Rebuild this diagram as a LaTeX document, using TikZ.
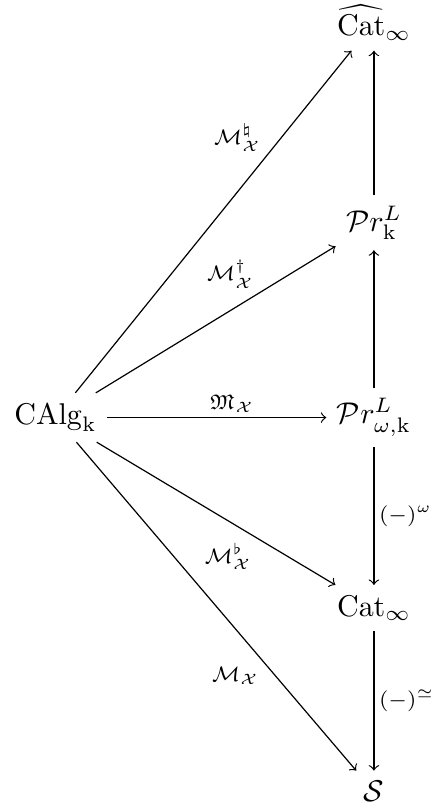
\documentclass[tikz,border=0pt]{standalone}
\usepackage{amsmath,amssymb,amsfonts}
\usepackage{tikz}
\tikzset{
  obj/.style={inner sep=3.33pt},
  mor/.style={->},
  lbl/.style={font=\scriptsize, inner sep=1.5pt}
}
\newcommand{\Xcat}{\mathcal{X}}

\begin{document}
\begin{tikzpicture}
\useasboundingbox (0,0) rectangle (5.12,9.49);
\node[obj] (calg) at (0.65,4.598) {$\mathrm{CAlg}_{\mathrm{k}}$};
\node[obj] (cathat) at (4.381,9.223) {$\widehat{\mathrm{Cat}}_\infty$};
\node[obj] (prk) at (4.381,6.88) {$\mathcal{P}r^L_{\mathrm{k}}$};
\node[obj] (prwk) at (4.381,4.598) {$\mathcal{P}r^L_{\omega,\mathrm{k}}$};
\node[obj] (cat) at (4.381,2.366) {$\mathrm{Cat}_\infty$};
\node[obj] (spc) at (4.381,0.217) {$\mathcal{S}$};
%SPINE ARROWS
\draw[mor] (prk) -- (cathat);
\draw[mor] (prwk) -- (prk);
\draw[mor] (prwk) -- node[lbl,right]{$(-)^\omega$} (cat);
\draw[mor] (cat) -- node[lbl,right]{$(-)^{\simeq}$} (spc);
%CAlg to Cat hat
\draw[mor] (calg) -- node[lbl,above left,pos=0.69]{$\mathcal{M}^\natural_\Xcat$} (cathat);
%CAlg to Pr_k
\draw[mor] (calg) -- node[lbl,above left,pos=0.68]{$\mathcal{M}^\dagger_\Xcat$} (prk);
%CAlg to Pr_omega
\draw[mor] (calg) -- node[lbl,above,pos=0.57]{$\mathfrak{M}_\Xcat$} (prwk);
%CAlg to Cat
\draw[mor] (calg) -- node[lbl,below left,pos=0.67]{$\mathcal{M}^\flat_\Xcat$} (cat);
%CAlg to S
\draw[mor] (calg) -- node[lbl,below left,pos=0.67]{$\mathcal{M}_\Xcat$} (spc);
\end{tikzpicture}
\end{document}
